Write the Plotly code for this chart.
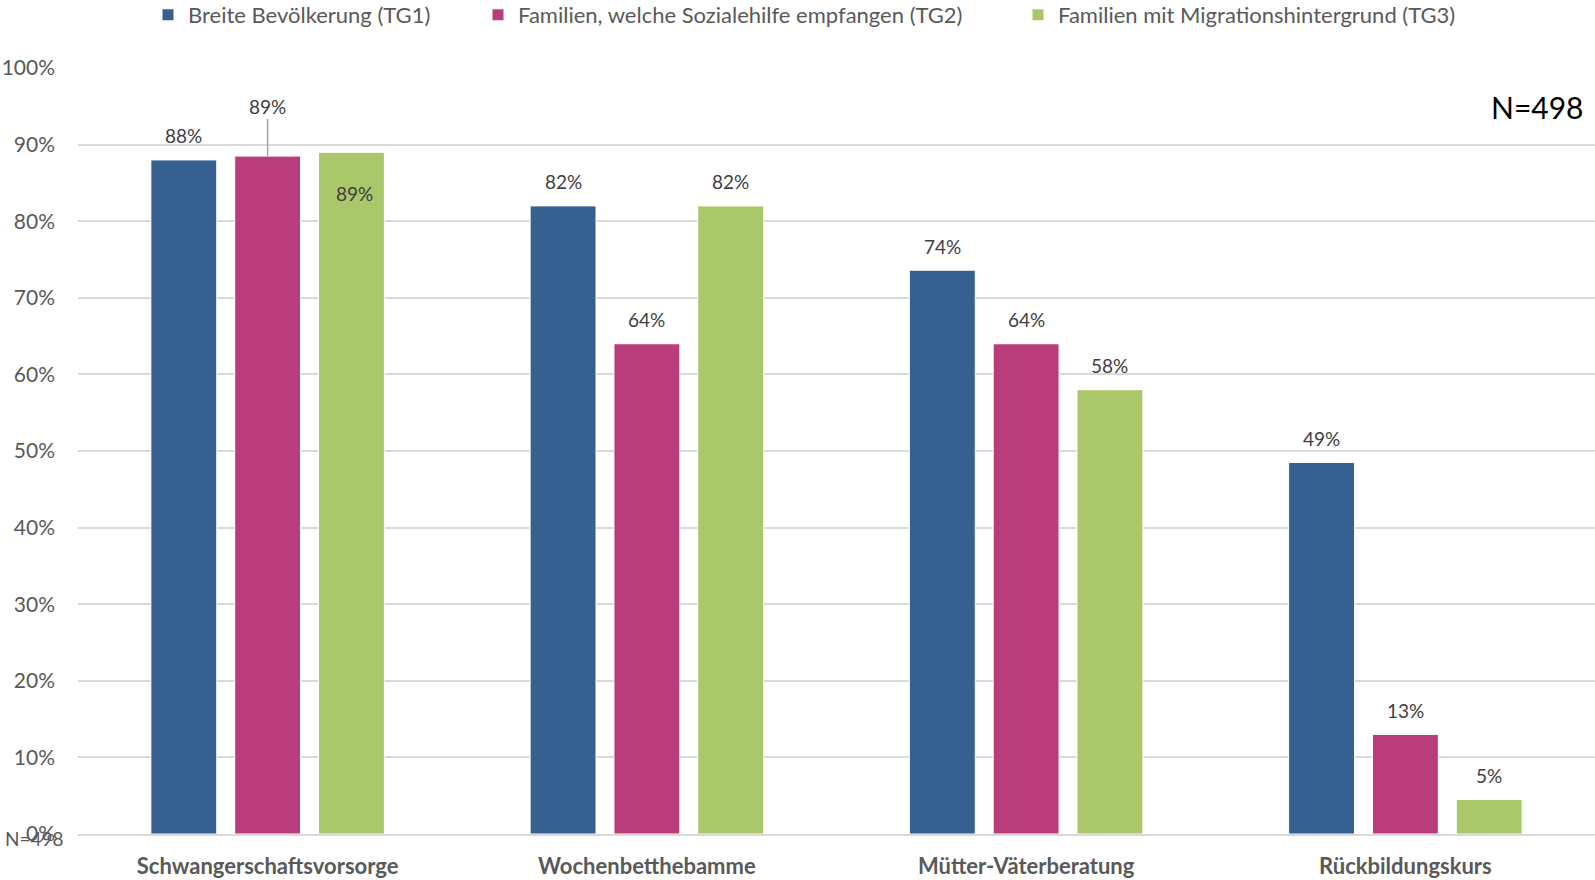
import plotly.graph_objects as go

categories = ["Schwangerschaftsvorsorge", "Wochenbetthebamme", "Mütter-Väterberatung", "Rückbildungskurs"]
series_names = ["Breite Bevölkerung (TG1)", "Familien, welche Sozialehilfe empfangen (TG2)",
                "Familien mit Migrationshintergrund (TG3)"]
tg1 = [88.0, 82.0, 73.6, 48.5]
tg2 = [88.5, 64.0, 64.0, 13.0]
tg3 = [89.0, 82.0, 58.0, 4.5]
colors = ["#36608F", "#B83D7A", "#AAC76A"]
n_label = "N=498"

W, H = 1595, 880
L, R, T, B = 78, 0, 68, 46
plot_w = W - L - R
bargap = 0.337
bargroupgap = 0.214
FONT = "Lato"
GREY = "#595959"

fig = go.Figure()
series = [tg1, tg2, tg3]
legend_ids = ["legend", "legend2", "legend3"]
for i, (name, vals) in enumerate(zip(series_names, series)):
    fig.add_trace(go.Bar(
        x=categories, y=[v / 100 for v in vals], name=name,
        marker=dict(color=colors[i], line=dict(color="white", width=1)),
        legend=legend_ids[i], hoverinfo="skip",
    ))

slot_px = (1 - bargap) / 3 * plot_w / len(categories)

def fmt(v):
    return f"{int(v + 0.5)}%"

annotations = []
for i, vals in enumerate(series):
    for ci, (cat, v) in enumerate(zip(categories, vals)):
        a = dict(x=cat, y=v / 100, xref="x", yref="y", text=fmt(v), showarrow=False,
                 xshift=(i - 1) * slot_px, yshift=24, yanchor="middle",
                 font=dict(family=FONT, size=19, color="#404040"))
        if i == 1 and ci == 0:
            a.update(showarrow=True, arrowhead=0, arrowwidth=1.5, arrowcolor="#A6A6A6",
                     ax=0, ay=-50, yshift=0, standoff=0)
        if i == 2 and ci == 0:
            a.update(yshift=-41, xshift=(i - 1) * slot_px + 3)
        annotations.append(a)

annotations.append(dict(text=n_label, xref="paper", yref="paper", x=1, y=1,
                        xanchor="right", yanchor="middle", xshift=-9, yshift=-39,
                        showarrow=False, font=dict(family=FONT, size=30, color="black")))
annotations.append(dict(text=n_label, xref="paper", yref="paper", x=0, y=0,
                        xanchor="left", yanchor="middle", xshift=-L + 3, yshift=-4,
                        showarrow=False, font=dict(family=FONT, size=19, color=GREY)))

legend_x_px = [148, 478, 1018]
common_leg = dict(orientation="h", xref="container", yref="container", yanchor="middle",
                  xanchor="left", y=1 - 15 / H, bgcolor="rgba(0,0,0,0)",
                  font=dict(family=FONT, size=22, color=GREY), itemclick=False,
                  itemdoubleclick=False)
fig.update_layout(
    legend=dict(x=legend_x_px[0] / W, **common_leg),
    legend2=dict(x=legend_x_px[1] / W, **common_leg),
    legend3=dict(x=legend_x_px[2] / W, **common_leg),
)

fig.update_layout(
    width=W, height=H, margin=dict(l=L, r=R, t=T, b=B),
    paper_bgcolor="white", plot_bgcolor="white",
    barmode="group", bargap=bargap, bargroupgap=bargroupgap,
    annotations=annotations, showlegend=True,
    font=dict(family=FONT, color=GREY),
    xaxis=dict(showgrid=False, showline=True, linecolor="#D9D9D9", linewidth=2,
               ticks="", ticklabelstandoff=12,
               tickfont=dict(family=FONT, size=22, color=GREY, weight="bold"),
               fixedrange=True),
    yaxis=dict(range=[0, 1], dtick=0.1, tickformat=".0%", showgrid=True,
               gridcolor="#D9D9D9", gridwidth=1.5, zeroline=False, ticks="",
               ticklabelstandoff=22, tickfont=dict(family=FONT, size=21, color=GREY),
               fixedrange=True),
)

fig.write_html("out.html", config={"displayModeBar": False})
